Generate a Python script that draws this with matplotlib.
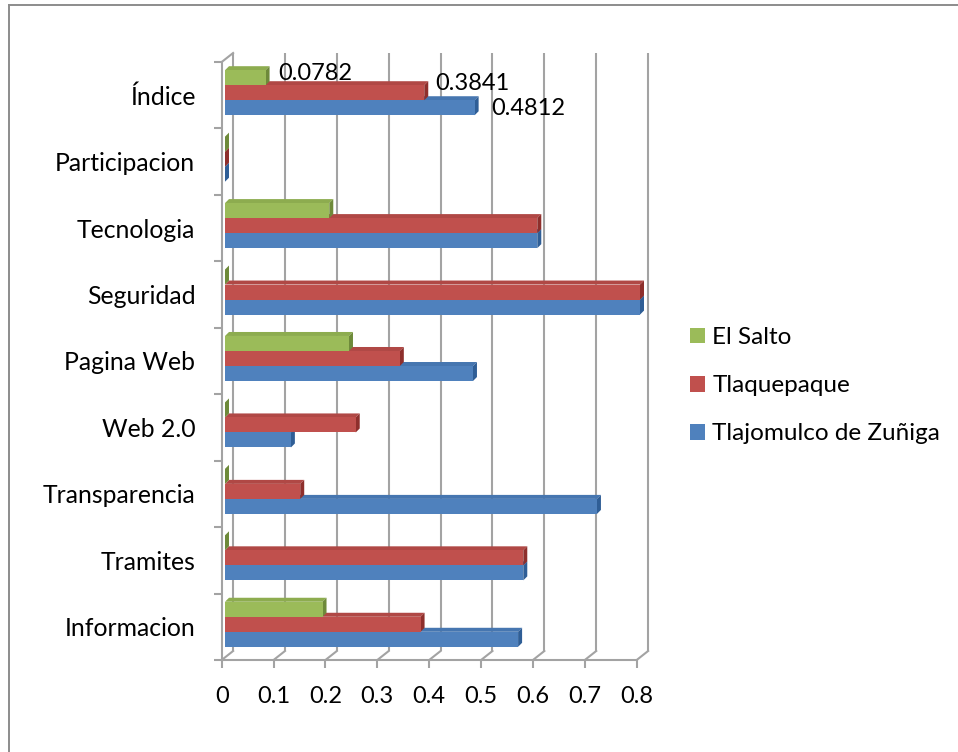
import matplotlib
matplotlib.use("Agg")
import matplotlib.pyplot as plt
from matplotlib.patches import Polygon, Patch
from matplotlib.lines import Line2D
from matplotlib.transforms import offset_copy, IdentityTransform
import numpy as np

# ---- data -------------------------------------------------------------
categories = ["Informacion", "Tramites", "Transparencia", "Web 2.0", "Pagina Web",
              "Seguridad", "Tecnologia", "Participacion", "Índice"]
series_names = ["Tlajomulco de Zuñiga", "Tlaquepaque", "El Salto"]
tlajomulco = [0.565, 0.575, 0.717, 0.127, 0.478, 0.800, 0.602, 0.0, 0.4812]
tlaquepaque = [0.377, 0.575, 0.145, 0.252, 0.337, 0.800, 0.602, 0.0, 0.3841]
el_salto = [0.188, 0.0, 0.0, 0.0, 0.239, 0.0, 0.201, 0.0, 0.0782]
x_ticks = [0.0, 0.1, 0.2, 0.3, 0.4, 0.5, 0.6, 0.7, 0.8]
x_tick_labels = ["0", "0.1", "0.2", "0.3", "0.4", "0.5", "0.6", "0.7", "0.8"]
labelled_category = "Índice"

# ---- styling ----------------------------------------------------------
plt.rcParams["font.family"] = ["Lato", "DejaVu Sans"]
CAT_SIZE = 17.8
TICK_SIZE = 17
LEGEND_SIZE = 17.5
VALUE_SIZE = 17
front_colors = ["#4F81BD", "#C0504D", "#9BBB59"]
top_colors = ["#4676B0", "#B04845", "#8DAC4F"]
side_colors = ["#2F5E96", "#8E2F2C", "#6E8A3A"]
grid_color = "#A3A3A3"

W_PX, H_PX = 958, 752
fig = plt.figure(figsize=(W_PX / 100, H_PX / 100), dpi=100)

# front plane of the 3-D box, in pixels
x0_px, x1_px = 221.7, 636.7
ytop_px, ybot_px = 62.0, 660.0
ax = fig.add_axes([x0_px / W_PX, 1 - ybot_px / H_PX,
                   (x1_px - x0_px) / W_PX, (ybot_px - ytop_px) / H_PX])
ax.set_xlim(0, 0.8)
ax.set_ylim(-0.5, len(categories) - 0.5)
ax.set_facecolor("none")

# depth offsets in pixels (right, up)
BACK_DX, BACK_DY = 11.4, 9.0      # back wall relative to front plane
BAR_DX, BAR_DY = 3.3, 2.5         # bar front faces relative to front plane
DEPTH_DX, DEPTH_DY = 4.0, 4.0     # visible bar depth

back_tr = offset_copy(ax.transData, fig=fig, x=BACK_DX, y=BACK_DY, units="dots")

# back-wall gridlines
ybot, ytop = -0.5, len(categories) - 0.5
for xv in x_ticks:
    ax.plot([xv, xv], [ybot, ytop], color=grid_color, lw=1.5,
            transform=back_tr, zorder=1, clip_on=False, solid_capstyle="butt")

# floor connectors and left-wall top connector
def front_back_segment(x, y):
    p0 = ax.transData.transform((x, y))
    p1 = p0 + np.array([BACK_DX, BACK_DY])
    fig.add_artist(Line2D([p0[0], p1[0]], [p0[1], p1[1]], color=grid_color,
                          lw=1.5, transform=IdentityTransform(), zorder=1))

for xv in x_ticks:
    front_back_segment(xv, ybot)
front_back_segment(0.0, ytop)

# ---- bars -------------------------------------------------------------
values = [tlajomulco, tlaquepaque, el_salto]
n_cat = len(categories)
bar_h = 0.226
bar_tr = offset_copy(ax.transData, fig=fig, x=BAR_DX, y=BAR_DY, units="dots")
y_pos = np.arange(n_cat)

def to_px(x, y):
    return ax.transData.transform((x, y)) + np.array([BAR_DX, BAR_DY])

for k, vals in enumerate(values):
    yc = y_pos + (k - 1) * bar_h
    z = 3 + k
    for v, c in zip(vals, yc):
        tl = to_px(0.0, c + bar_h / 2)
        br = to_px(v, c - bar_h / 2)
        tr = to_px(v, c + bar_h / 2)
        d = np.array([DEPTH_DX, DEPTH_DY])
        ax.add_patch(Polygon([tl, tr, tr + d, tl + d], closed=True,
                             facecolor=top_colors[k], edgecolor="none",
                             transform=IdentityTransform(), zorder=z, clip_on=False))
        ax.add_patch(Polygon([br, tr, tr + d, br + d], closed=True,
                             facecolor=side_colors[k], edgecolor="none",
                             transform=IdentityTransform(), zorder=z, clip_on=False))
    ax.barh(yc, vals, height=bar_h, color=front_colors[k], edgecolor="none",
            transform=bar_tr, zorder=z, clip_on=False, label=series_names[k])

# value labels on the top category
label_offsets_px = [(16.4, -0.3), (10.7, 9.4), (12.4, 4.7)]
li = categories.index(labelled_category)
for k, vals in enumerate(values):
    v = vals[li]
    c = li + (k - 1) * bar_h
    ax.annotate(f"{v:.4f}".rstrip("0") if v else "0", xy=(v, c), xycoords=bar_tr,
                xytext=(label_offsets_px[k][0] * 0.72, label_offsets_px[k][1] * 0.72),
                textcoords="offset points", ha="left", va="center",
                fontsize=VALUE_SIZE, zorder=10)

# ---- axes ------------------------------------------------------------
ax.set_xlim(0, 0.8)
ax.set_ylim(-0.5, n_cat - 0.5)
for s in ["top", "right"]:
    ax.spines[s].set_visible(False)
for s in ["left", "bottom"]:
    ax.spines[s].set_color(grid_color)
    ax.spines[s].set_linewidth(1.5)
    ax.spines[s].set_zorder(2)

ax.set_xticks(x_ticks)
ax.set_xticklabels(x_tick_labels)
ax.set_yticks(y_pos)
ax.set_yticklabels(categories)
ax.set_yticks(np.arange(-0.5, n_cat, 1.0), minor=True)
ax.tick_params(axis="x", direction="out", length=6, width=1.5, color=grid_color,
               labelsize=TICK_SIZE, pad=13)
ax.tick_params(axis="y", which="major", length=0, labelsize=CAT_SIZE, pad=19)
ax.tick_params(axis="y", which="minor", direction="out", length=6, width=1.5,
               color=grid_color)

# ---- legend ----------------------------------------------------------
handles = [Patch(facecolor=front_colors[k], edgecolor="none", label=series_names[k])
           for k in (2, 1, 0)]
fig.legend(handles=handles, loc="upper left", bbox_to_anchor=(690 / W_PX, 1 - 327 / H_PX),
           frameon=False, fontsize=LEGEND_SIZE, handlelength=0.62, handleheight=0.62,
           handletextpad=0.3, labelspacing=1.12, borderpad=0, borderaxespad=0)

# ---- outer frame -----------------------------------------------------
frame_color = "#8C8C8C"
fig.add_artist(Line2D([9 / W_PX, 1.0], [1 - 5 / H_PX, 1 - 5 / H_PX],
                      color=frame_color, lw=1.4, transform=fig.transFigure))
fig.add_artist(Line2D([9 / W_PX, 9 / W_PX], [0.0, 1 - 5 / H_PX],
                      color=frame_color, lw=1.4, transform=fig.transFigure))

fig.savefig("out.png", dpi=100, facecolor="white")
